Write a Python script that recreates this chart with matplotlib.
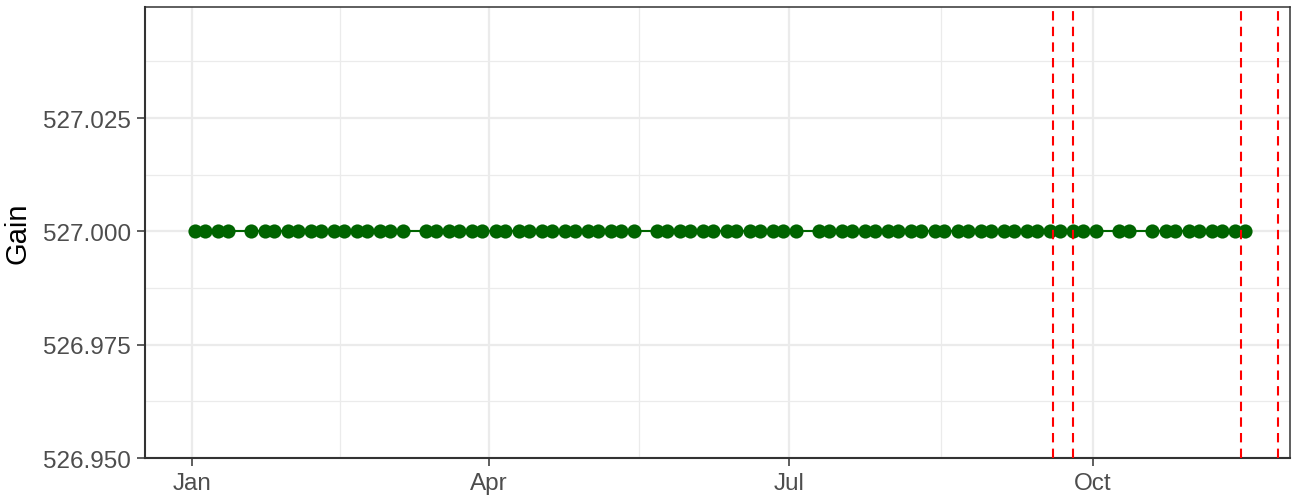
import numpy as np
import pandas as pd
import matplotlib
matplotlib.use("Agg")
import matplotlib.pyplot as plt
import matplotlib.dates as mdates

plt.rcParams['font.family'] = ['Liberation Sans', 'DejaVu Sans']

# observation dates (twice a week, a few missing)
dates = [
    "2019-01-02", "2019-01-05", "2019-01-09", "2019-01-12", "2019-01-19",
    "2019-01-23", "2019-01-26", "2019-01-30", "2019-02-02", "2019-02-06",
    "2019-02-09", "2019-02-13", "2019-02-16", "2019-02-20", "2019-02-23",
    "2019-02-27", "2019-03-02", "2019-03-06", "2019-03-13", "2019-03-16",
    "2019-03-20", "2019-03-23", "2019-03-27", "2019-03-30", "2019-04-03",
    "2019-04-06", "2019-04-10", "2019-04-13", "2019-04-17", "2019-04-20",
    "2019-04-24", "2019-04-27", "2019-05-01", "2019-05-04", "2019-05-08",
    "2019-05-11", "2019-05-15", "2019-05-22", "2019-05-25", "2019-05-29",
    "2019-06-01", "2019-06-05", "2019-06-08", "2019-06-12", "2019-06-15",
    "2019-06-19", "2019-06-22", "2019-06-26", "2019-06-29", "2019-07-03",
    "2019-07-10", "2019-07-13", "2019-07-17", "2019-07-20", "2019-07-24",
    "2019-07-27", "2019-07-31", "2019-08-03", "2019-08-07", "2019-08-10",
    "2019-08-14", "2019-08-17", "2019-08-21", "2019-08-24", "2019-08-28",
    "2019-08-31", "2019-09-04", "2019-09-07", "2019-09-11", "2019-09-14",
    "2019-09-18", "2019-09-21", "2019-09-25", "2019-09-28", "2019-10-02",
    "2019-10-09", "2019-10-12", "2019-10-19", "2019-10-23", "2019-10-26",
    "2019-10-30", "2019-11-02", "2019-11-06", "2019-11-09", "2019-11-13",
    "2019-11-16",
]
gain = [527.0] * len(dates)

# event markers (red dashed)
events = ["2019-09-19", "2019-09-25", "2019-11-15", "2019-11-26"]

x_limits = ("2018-12-17 19:00", "2019-11-29 17:00")
x_breaks = ["2019-01-01", "2019-04-01", "2019-07-01", "2019-10-01"]
x_labels = ["Jan", "Apr", "Jul", "Oct"]
y_breaks = [526.950, 526.975, 527.000, 527.025]
y_limits = (526.95, 527.0495)

d = pd.to_datetime(dates)
ev = pd.to_datetime(events)
xb = mdates.date2num(pd.to_datetime(x_breaks))

fig = plt.figure(figsize=(12.99, 5.02), dpi=100)
ax = fig.add_axes([145 / 1299, 1 - 459 / 502, (1290 - 145) / 1299, (459 - 8) / 502])

grid_col = "#EBEBEB"
# minor grid (midpoints of breaks)
for m in (xb[:-1] + xb[1:]) / 2:
    ax.axvline(m, color=grid_col, lw=0.9, zorder=0)
yb = np.array(y_breaks + [527.05])
for m in (yb[:-1] + yb[1:]) / 2:
    ax.axhline(m, color=grid_col, lw=0.9, zorder=0)
for b in xb:
    ax.axvline(b, color=grid_col, lw=1.6, zorder=0)
for b in y_breaks:
    ax.axhline(b, color=grid_col, lw=1.6, zorder=0)

ax.plot(d, gain, color="#006400", lw=1.5, marker="o", ms=10.2,
        markeredgewidth=0, zorder=3)
for e in ev:
    ax.axvline(e, color="red", lw=1.5, ls=(0, (4.5, 3)), zorder=4)

ax.set_xlim(mdates.date2num(pd.to_datetime(x_limits[0])),
            mdates.date2num(pd.to_datetime(x_limits[1])))
ax.set_ylim(*y_limits)

ax.set_xticks(xb)
ax.set_xticklabels(x_labels)
ax.set_yticks(y_breaks)
ax.set_yticklabels(["%.3f" % v for v in y_breaks])
ax.tick_params(axis="both", length=6, width=1.1, color="#333333",
               labelcolor="#4D4D4D", labelsize=17.5, pad=4)
ax.set_ylabel("Gain", fontsize=21, color="black", labelpad=8)

for s in ["left", "bottom"]:
    ax.spines[s].set_linewidth(1.5)
    ax.spines[s].set_color("#333333")
for s in ["top", "right"]:
    ax.spines[s].set_linewidth(1.1)
    ax.spines[s].set_color("#333333")

fig.savefig("out.png", dpi=100)
